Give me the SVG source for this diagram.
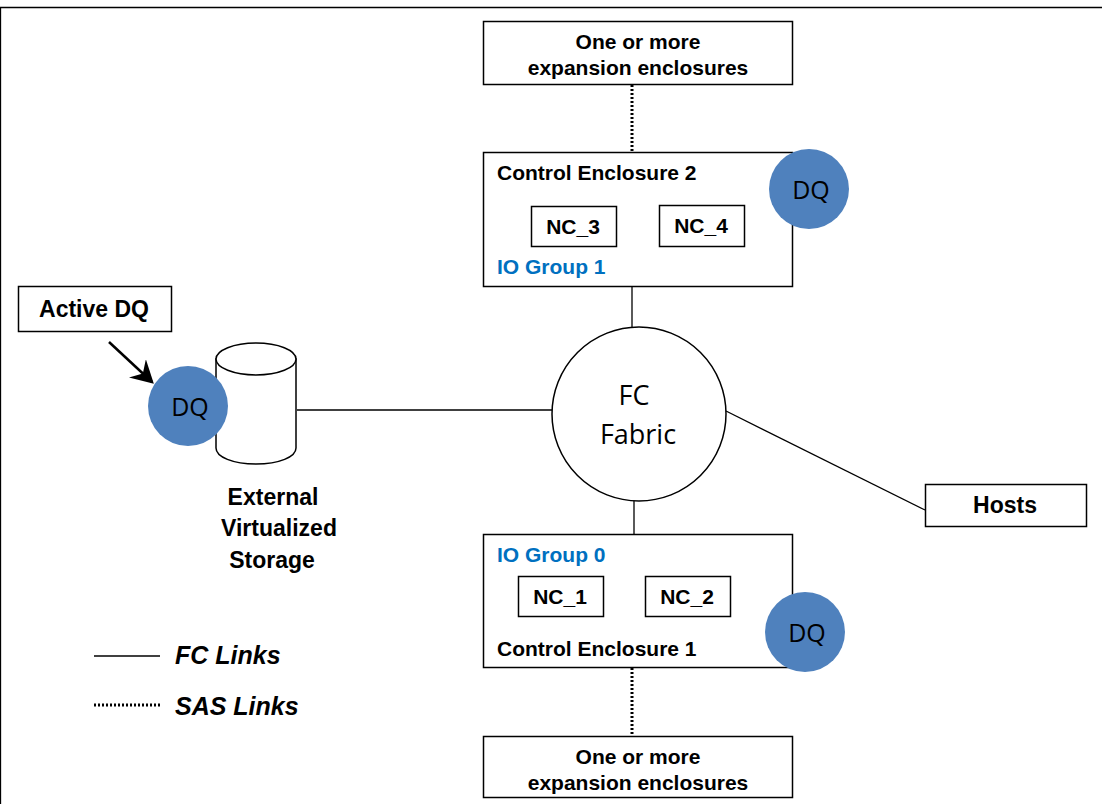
<svg xmlns="http://www.w3.org/2000/svg" width="1102" height="804" viewBox="0 0 1102 804">
<style>
text{font-family:"Liberation Sans",Arial,sans-serif;text-anchor:middle;font-weight:bold;fill:#000}
.b{fill:#fff;stroke:#000;stroke-width:1.5}
.l{fill:none;stroke:#000;stroke-width:1.3}
.d{fill:none;stroke:#000;stroke-width:3;stroke-dasharray:2 2}
.dq{fill:#4f81bd}
.q{font-family:"Open Sans","Noto Sans",sans-serif;font-weight:normal;font-size:25px}
.t{font-size:21px}
.s{font-size:23px}
.i{font-size:25px;font-style:italic;text-anchor:start}
.g{fill:#0070c0;text-anchor:start;font-size:21px}
.a{text-anchor:start;font-size:21px}
</style>
<defs><marker id="ah" markerWidth="10" markerHeight="10" refX="8" refY="5" orient="auto"><path d="M0 0L9 5L0 10L3 5Z" fill="#000"/></marker></defs>
<rect x="0" y="0" width="1102" height="804" fill="#fff"/>
<path d="M0.5 804V7.5H1102" class="l"/>
<g id="connectors">
<path class="d" d="M632 85V152"/>
<path class="l" d="M632 287V334"/>
<path class="l" d="M634 494V534"/>
<path class="d" d="M632 668V736"/>
<path class="l" d="M297 410H552"/>
<path class="l" d="M726 411L925 510"/>
<path d="M109 342L152 382" fill="none" stroke="#000" stroke-width="2.5" marker-end="url(#ah)"/>
</g>
<g id="exp2"><rect class="b" x="483.500" y="21.500" width="309" height="63"/><text class="t" x="638" y="49">One or more</text><text class="t" x="638" y="75">expansion enclosures</text></g>
<g id="ce2"><rect class="b" x="483.500" y="152.500" width="309" height="134"/><text class="a" x="497" y="180">Control Enclosure 2</text><text class="g" x="497" y="274">IO Group 1</text></g>
<g id="nc3"><rect class="b" x="531.500" y="206.500" width="85" height="40"/><text class="t" x="573" y="234">NC_3</text></g>
<g id="nc4"><rect class="b" x="659.500" y="205.500" width="85" height="41"/><text class="t" x="701" y="233">NC_4</text></g>
<g id="dq2"><circle class="dq" cx="809" cy="189" r="40"/><text class="q" x="811" y="199">DQ</text></g>
<g id="activeDQ"><rect class="b" x="18.500" y="286.500" width="153" height="45"/><text class="s" x="94" y="317">Active DQ</text></g>
<g id="storage"><path d="M216 359V448C216 457 233 464 256 464C279 464 296 457 296 448V359Z" class="b"/><ellipse class="b" cx="256" cy="359" rx="40" ry="16"/><text class="s" x="273" y="505">External</text><text class="s" x="279" y="536">Virtualized</text><text class="s" x="272" y="568">Storage</text></g>
<g id="dq0"><circle class="dq" cx="188" cy="406" r="40"/><text class="q" x="190" y="416">DQ</text></g>
<g id="fabric"><circle class="b" cx="639" cy="414" r="87"/><text class="q" x="634" y="405" style="font-size:27px">FC</text><text class="q" x="638" y="444" style="font-size:27px">Fabric</text></g>
<g id="hosts"><rect class="b" x="925.500" y="484.500" width="161" height="42"/><text class="s" x="1005" y="513">Hosts</text></g>
<g id="ce1"><rect class="b" x="483.500" y="534.500" width="309" height="133"/><text class="g" x="497" y="562">IO Group 0</text><text class="a" x="497" y="656">Control Enclosure 1</text></g>
<g id="nc1"><rect class="b" x="518.500" y="576.500" width="85" height="40"/><text class="t" x="560" y="604">NC_1</text></g>
<g id="nc2"><rect class="b" x="645.500" y="576.500" width="85" height="40"/><text class="t" x="687" y="604">NC_2</text></g>
<g id="dq1"><circle class="dq" cx="805" cy="632" r="40"/><text class="q" x="807" y="642">DQ</text></g>
<g id="exp1"><rect class="b" x="483.500" y="736.500" width="309" height="61"/><text class="t" x="638" y="764">One or more</text><text class="t" x="638" y="790">expansion enclosures</text></g>
<g id="legend"><path class="l" d="M94 656H160"/><path class="d" d="M94 705H160"/><text class="i" x="175" y="664">FC Links</text><text class="i" x="175" y="715">SAS Links</text></g>
</svg>
